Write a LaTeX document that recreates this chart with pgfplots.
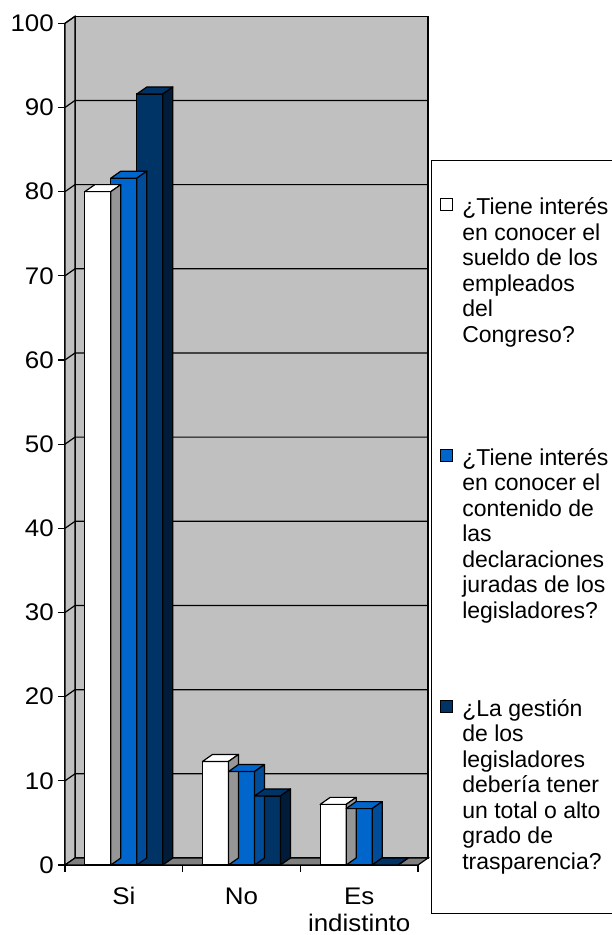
\documentclass[border=0pt]{standalone}
\usepackage{fontspec}
\setmainfont{Liberation Sans}
\newfontfamily\stretchfont{Liberation Sans}[FakeStretch=1.08]
\usepackage{pgfplots}
\pgfplotsset{compat=1.18}
\usepackage{pgfplotstable}

\definecolor{wallgray}{HTML}{C0C0C0}
\definecolor{floorgray}{HTML}{808080}
\definecolor{whiteside}{HTML}{969696}
\definecolor{blueA}{HTML}{0066CC}
\definecolor{blueAside}{HTML}{004C99}
\definecolor{navy}{HTML}{003366}
\definecolor{navyside}{HTML}{001C38}

\pgfplotstableread{
x a b c
0 80.0 81.6 91.6
1 12.3 11.1 8.2
2 7.2 6.7 0
}\datatable

\pgfplotsset{
  sq/.style={legend image code/.code={\draw[fill=#1, draw=black, line width=1.2pt] (0pt,4pt) rectangle (12pt,16pt);}},
  face3d/.style n args={3}{forget plot, only marks, scatter, point meta=y,
    mark=*, mark size=0.01pt, mark options={draw=none, fill=none},
    visualization depends on={\thisrow{#1} \as \barval},
    scatter/@pre marker code/.code={%
      \pgfmathsetmacro\hh{\barval*8.417}%
      \path[fill=#2, draw=black, line width=1.2pt, line join=round] (0pt,0pt) -- (10pt,7pt) -- (36pt,7pt) -- (26pt,0pt) -- cycle;
      \path[fill=#3, draw=black, line width=1.2pt, line join=round] (26pt,0pt) -- (36pt,7pt) -- (36pt,7pt-\hh pt) -- (26pt,-\hh pt) -- cycle;
    },
    scatter/@post marker code/.code={}},
}

\begin{document}
\begin{tikzpicture}
\path[use as bounding box] (0pt,0pt) rectangle (611pt,935pt);
\begin{axis}[
  at={(65pt,70pt)}, anchor=south west,
  scale only axis, width=353pt, height=841.7pt,
  xmin=-0.5, xmax=2.5, ymin=0, ymax=100,
  clip=false,
  axis x line*=bottom, axis y line*=left,
  axis line style={line width=1.2pt, black},
  ytick={0,10,...,100},
  xtick={0,1,2}, xticklabels={Si,No,{Es\\indistinto}},
  minor xtick={-0.5,0.5,1.5,2.5},
  tick align=outside,
  major tick length=7pt, minor tick length=7pt,
  tick style={black, line width=1.2pt},
  major x tick style={draw=none},
  tick label style={font=\stretchfont\fontsize{24}{27}\selectfont},
  xticklabel style={align=center, yshift=-12pt},
  yticklabel style={inner xsep=4pt},
  /pgf/number format/assume math mode=true,
  bar width=0.221,
  legend style={at={(1.03683,0.83759)}, anchor=north west, draw=black, line width=1.2pt, fill=white,
    inner xsep=8.5pt, inner ysep=37pt, row sep=74pt, column sep=9pt,
    cells={anchor=base west}, nodes={inner sep=0pt, text depth=160pt},
    font=\fontsize{23}{25.5}\selectfont},
]
% back wall, side wall, floor and grid
\filldraw[fill=wallgray, draw=black, line width=1.2pt] (axis cs:-0.415,0.832) rectangle (axis cs:2.585,100.832);
\filldraw[fill=wallgray, draw=black, line width=1.2pt] (axis cs:-0.5,0) -- (axis cs:-0.5,100) -- (axis cs:-0.415,100.832) -- (axis cs:-0.415,0.832) -- cycle;
\filldraw[fill=floorgray, draw=black, line width=1.2pt] (axis cs:-0.5,0) -- (axis cs:2.5,0) -- (axis cs:2.585,0.832) -- (axis cs:-0.415,0.832) -- cycle;
\pgfplotsinvokeforeach{10,20,...,90}{\draw[line width=1.2pt] (axis cs:-0.5,#1) -- (axis cs:-0.415,#1+0.832) -- (axis cs:2.585,#1+0.832);}
\draw[line width=1.2pt] (axis cs:-0.5,100) -- (axis cs:-0.415,100.832);

\addplot[ybar, bar shift=-0.221, fill=white, draw=black, line width=1.2pt, sq=white] table[x=x, y=a] {\datatable};
\addlegendentry{\parbox[t]{170pt}{\fontsize{23}{25.5}\selectfont\raggedright ¿Tiene interés\\en conocer el\\sueldo de los\\empleados\\del\\Congreso?}}
\addplot[face3d={a}{white}{whiteside}] table[x expr=\thisrow{x}-0.3315, y=a] {\datatable};

\addplot[ybar, bar shift=0, fill=blueA, draw=black, line width=1.2pt, sq=blueA] table[x=x, y=b] {\datatable};
\addlegendentry{\parbox[t]{170pt}{\fontsize{23}{25.5}\selectfont\raggedright ¿Tiene interés\\en conocer el\\contenido de\\las\\declaraciones\\juradas de los\\legisladores?}}
\addplot[face3d={b}{blueA}{blueAside}] table[x expr=\thisrow{x}-0.1105, y=b] {\datatable};

\addplot[ybar, bar shift=0.221, fill=navy, draw=black, line width=1.2pt, sq=navy] table[x=x, y=c] {\datatable};
\addlegendentry{\parbox[t]{170pt}{\fontsize{23}{25.5}\selectfont\raggedright ¿La gestión\\de los\\legisladores\\debería tener\\un total o alto\\grado de\\trasparencia?}}
\addplot[face3d={c}{navy}{navyside}] table[x expr=\thisrow{x}+0.1105, y=c] {\datatable};
\end{axis}
\end{tikzpicture}
\end{document}
